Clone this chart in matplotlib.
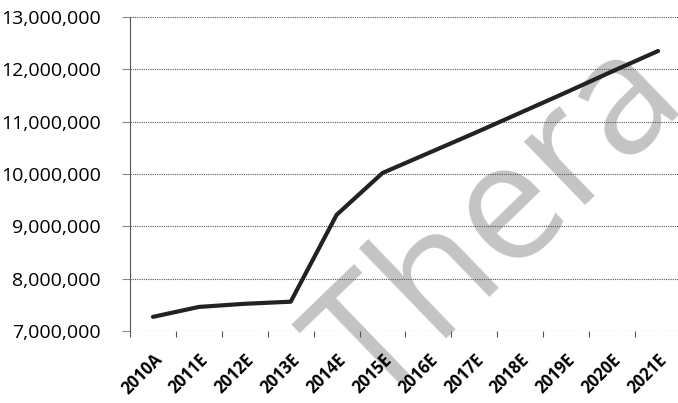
import numpy as np
import matplotlib
matplotlib.use("Agg")
import matplotlib.pyplot as plt
from matplotlib.ticker import FuncFormatter

# Datos
years = ['2010A', '2011E', '2012E', '2013E', '2014E', '2015E',
         '2016E', '2017E', '2018E', '2019E', '2020E', '2021E']
values = [7270000, 7460000, 7520000, 7560000, 9220000, 10020000,
          10400000, 10780000, 11170000, 11560000, 11960000, 12350000]
y_ticks = [7000000, 8000000, 9000000, 10000000, 11000000, 12000000, 13000000]

plt.rcParams['font.family'] = ['Open Sans', 'DejaVu Sans']

fig = plt.figure(figsize=(6.78, 4.03), dpi=100)
ax = fig.add_axes([130 / 678, 1 - 331 / 403, 551 / 678, 314 / 403])
ax.patch.set_alpha(0)

# Marca de agua (detras de todo)
fig.text(372 / 678, 1 - 410 / 403, 'Thera', fontsize=118, color='#c4c4c4',
         rotation=44, ha='left', va='baseline', rotation_mode='anchor', zorder=-5)

x = np.arange(len(years))
ax.plot(x, values, color='#222222', linewidth=3.0, solid_capstyle='round', zorder=3)

ax.set_xlim(-0.5, len(years) - 0.5)
ax.set_ylim(y_ticks[0], y_ticks[-1])
ax.set_yticks(y_ticks)
ax.yaxis.set_major_formatter(FuncFormatter(lambda v, p: f'{int(v):,}'))
ax.grid(axis='y', linestyle=(0, (1, 1)), color='#555555', linewidth=0.8)

ax.set_xticks(x)
ax.set_xticklabels(years, rotation=45, ha='right', rotation_mode='anchor',
                   fontsize=12, fontweight='bold')
ax.set_xticks(np.arange(-0.5, len(years), 1), minor=True)
ax.tick_params(axis='x', which='major', length=0, pad=14)
ax.tick_params(axis='x', which='minor', length=4, color='#555555', width=0.8)
ax.tick_params(axis='y', length=6, color='#888888', width=0.8, labelsize=14, pad=15)

for side in ['top', 'right', 'bottom']:
    ax.spines[side].set_visible(False)
ax.spines['left'].set_linestyle((0, (1, 1)))
ax.spines['left'].set_color('#555555')
ax.spines['left'].set_linewidth(0.8)

fig.savefig('out.png', dpi=100)
